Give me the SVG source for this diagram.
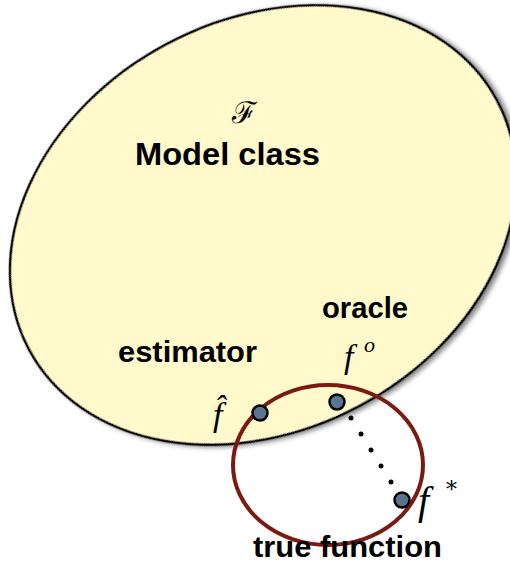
<svg xmlns="http://www.w3.org/2000/svg" width="510" height="563" viewBox="0 0 510 563">
<defs>
<style>
.lbl{font-family:"Liberation Sans",Arial,sans-serif;font-weight:bold;fill:#000}
.math{font-family:"Liberation Serif","DejaVu Serif",serif;font-style:italic;fill:#000}
.pt{fill:#5B7393;stroke:#000;stroke-width:2.5}
.dot{fill:#000}
</style>
<filter id="sh" x="-10%" y="-10%" width="130%" height="130%">
<feGaussianBlur in="SourceAlpha" stdDeviation="2.5"/>
<feOffset dx="3" dy="3" result="b"/>
<feComponentTransfer><feFuncA type="linear" slope="0.5"/></feComponentTransfer>
<feMerge><feMergeNode/><feMergeNode in="SourceGraphic"/></feMerge>
</filter>
</defs>
<rect width="510" height="563" fill="#fff"/>
<g id="model-class">
<ellipse cx="263" cy="225" rx="265" ry="205" transform="rotate(-28 263 225)" fill="#FFF9CC" stroke="#000" stroke-width="2.5" filter="url(#sh)"/>
<text x="244" y="123" font-size="30" text-anchor="middle" font-family="DejaVu Serif, serif">ℱ</text>
<text class="lbl" x="135" y="165" font-size="32" textLength="185" lengthAdjust="spacingAndGlyphs">Model class</text>
</g>
<g id="true-function-set">
<ellipse cx="328" cy="465" rx="95" ry="80" fill="none" stroke="#7A1A12" stroke-width="4"/>
<text class="lbl" x="253" y="557" font-size="30" textLength="189" lengthAdjust="spacingAndGlyphs">true function</text>
</g>
<g id="connectors">
<circle class="dot" cx="351" cy="418" r="2.5"/>
<circle class="dot" cx="361" cy="434" r="2.5"/>
<circle class="dot" cx="371" cy="450" r="2.5"/>
<circle class="dot" cx="381" cy="466" r="2.5"/>
<circle class="dot" cx="391" cy="482" r="2.5"/>
</g>
<g id="estimator">
<circle class="pt" cx="260" cy="413" r="7.5"/>
<text class="lbl" x="118" y="362" font-size="30" textLength="139" lengthAdjust="spacingAndGlyphs">estimator</text>
<text class="math" x="213" y="426" font-size="34">f&#x302;</text>
</g>
<g id="oracle">
<circle class="pt" cx="337" cy="402" r="7.5"/>
<text class="lbl" x="322" y="318" font-size="29" textLength="86" lengthAdjust="spacingAndGlyphs">oracle</text>
<text class="math" x="344" y="368" font-size="34">f<tspan x="364" y="352" font-size="22">o</tspan></text>
</g>
<g id="true-function">
<circle class="pt" cx="402" cy="500" r="7.5"/>
<text class="math" x="418" y="514" font-size="40">f<tspan x="446" y="497" font-size="22" font-style="normal" font-family="DejaVu Serif, serif">*</tspan></text>
</g>
</svg>
